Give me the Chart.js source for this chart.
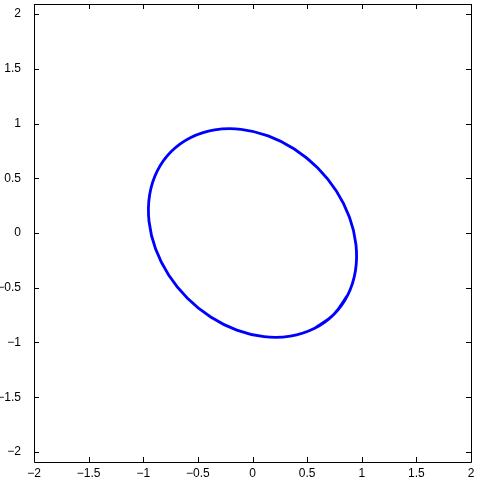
<!DOCTYPE html>
<html>
<head>
<meta charset="utf-8">
<script src="https://cdn.jsdelivr.net/npm/chart.js@4"></script>
<style>
html,body{margin:0;padding:0;background:#fff;}
#c{display:block;}
</style>
</head>
<body>
<canvas id="c" width="480" height="480"></canvas>
<script>
// Curve points, going round the closed curve (first segment repeated so the join is smooth)
const curveX = [0.5644,0.7439,0.8726,0.9419,0.9470,0.8876,0.7676,0.5954,0.3826,0.1436,-0.1050,-0.3465,-0.5644,-0.7439,-0.8726,-0.9419,-0.9470,-0.8876,-0.7676,-0.5954,-0.3826,-0.1436,0.1050,0.3465,0.5644,0.7439,0.8726];
const curveY = [-0.8726,-0.7439,-0.5644,-0.3465,-0.1050,0.1436,0.3826,0.5954,0.7676,0.8876,0.9470,0.9419,0.8726,0.7439,0.5644,0.3465,0.1050,-0.1436,-0.3826,-0.5954,-0.7676,-0.8876,-0.9470,-0.9419,-0.8726,-0.7439,-0.5644];
const xTicks = [-2,-1.5,-1,-0.5,0,0.5,1,1.5,2];
const yTicks = [-2,-1.5,-1,-0.5,0,0.5,1,1.5,2];
const xRange = [-2,2];
const yRange = [-2.0915,2.0915];

const fmt = v => String(v).replace('-', '\u2212');

const boxTicks = {
  id:'boxTicks',
  afterDraw(chart){
    const {ctx, chartArea:a, scales:{x,y}} = chart;
    ctx.save();
    ctx.strokeStyle = '#000';
    ctx.lineWidth = 1;
    const L = 5;
    ctx.beginPath();
    x.ticks.forEach(t=>{
      const p = Math.round(x.getPixelForValue(t.value))+0.5;
      ctx.moveTo(p,a.bottom); ctx.lineTo(p,a.bottom-L);
      ctx.moveTo(p,a.top); ctx.lineTo(p,a.top+L);
    });
    y.ticks.forEach(t=>{
      const p = Math.round(y.getPixelForValue(t.value))+0.5;
      ctx.moveTo(a.left,p); ctx.lineTo(a.left+L,p);
      ctx.moveTo(a.right,p); ctx.lineTo(a.right-L,p);
    });
    ctx.stroke();
    ctx.beginPath();
    ctx.rect(Math.round(a.left)+0.5, Math.round(a.top)+0.5, Math.round(a.right-a.left), Math.round(a.bottom-a.top));
    ctx.stroke();
    ctx.restore();
  }
};
const whiteBg = {
  id:'whiteBg',
  beforeDraw(chart){
    const ctx = chart.ctx; ctx.save(); ctx.fillStyle='#fff'; ctx.fillRect(0,0,chart.width,chart.height); ctx.restore();
  }
};

new Chart(document.getElementById('c'), {
  type:'scatter',
  data:{
    datasets:[{
      data: curveX.map((v,i)=>({x:v,y:curveY[i]})),
      showLine:true,
      tension:0.4,
      borderColor:'#0000ff',
      borderWidth:2.8,
      pointRadius:0,
      fill:false
    }]
  },
  options:{
    responsive:false,
    animation:false,
    layout:{padding:{top:4,right:9,left:0,bottom:0}},
    plugins:{legend:{display:false},tooltip:{enabled:false}},
    scales:{
      x:{
        type:'linear', min:xRange[0], max:xRange[1],
        afterBuildTicks: s => { s.ticks = xTicks.map(v=>({value:v})); },
        afterFit: s => { s.height = 18; s.paddingLeft = 0; s.paddingRight = 0; },
        grid:{drawOnChartArea:false, drawTicks:false},
        border:{display:false},
        ticks:{padding:4, color:'#000', font:{family:'Liberation Sans, Arial, sans-serif', size:12}, callback:v=>fmt(v), maxRotation:0, autoSkip:false}
      },
      y:{
        type:'linear', min:yRange[0], max:yRange[1],
        afterBuildTicks: s => { s.ticks = yTicks.map(v=>({value:v})); },
        afterFit: s => { s.width = 34; s.paddingTop = 0; s.paddingBottom = 0; },
        grid:{drawOnChartArea:false, drawTicks:false},
        border:{display:false},
        ticks:{padding:13, color:'#000', font:{family:'Liberation Sans, Arial, sans-serif', size:12}, callback:v=>fmt(v), autoSkip:false}
      }
    }
  },
  plugins:[whiteBg, boxTicks]
});
</script>
</body>
</html>
